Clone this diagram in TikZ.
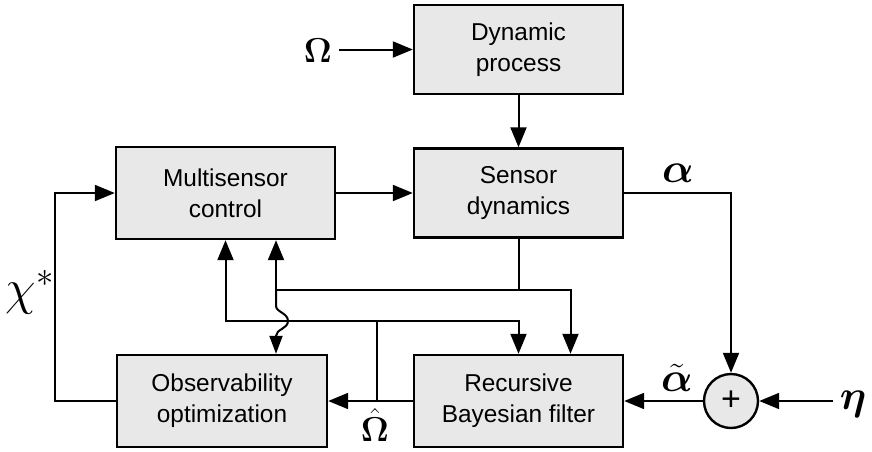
\documentclass[tikz,border=0pt]{standalone}
\usepackage{amsmath}
\usepackage{amssymb}
\usepackage{fontspec}
\setsansfont{Liberation Sans}
\usepackage{xcolor}
\usepackage{tikz}
\usetikzlibrary{arrows.meta,positioning}

\definecolor{boxgray}{HTML}{E8E8E8}

\begin{document}
\begin{tikzpicture}[
    x=0.5pt, y=-0.5pt,
    box/.style={rectangle, draw, line width=1.2pt, fill=boxgray, align=center, inner sep=0pt,
                minimum width=104.5pt, minimum height=44.5pt,
                font=\sffamily\fontsize{12.2}{15.5}\selectfont},
    sumnode/.style={circle, draw, line width=1.2pt, fill=boxgray, minimum size=27pt, inner sep=0pt,
                font=\sffamily\fontsize{17}{17}\selectfont},
    arrow/.style={-{Triangle[length=10pt,width=8pt]}, line width=1pt},
    smallarrow/.style={-{Triangle[length=9pt,width=6.5pt]}, line width=1pt},
    sym/.style={font=\fontsize{19}{19}\selectfont},
    bigsym/.style={font=\fontsize{20}{20}\selectfont}
]
    \useasboundingbox (0,0) rectangle (872,451);

    % Blocks
    \node[box] (dyn) at (518.5,49.5) {Dynamic\\process};
    \node[box] (sensor) at (518.5,193) {Sensor\\dynamics};
    \node[box, minimum width=109.5pt, minimum height=46pt] (multi) at (225.5,193) {Multisensor\\control};
    \node[box, minimum width=105pt, minimum height=46pt] (obs) at (222,401) {Observability\\optimization};
    \node[box, minimum height=46pt] (rec) at (518.5,401) {Recursive\\Bayesian filter};
    \node[sumnode] (sum) at (731,401) {+};

    % Signals
    \node[sym] (omega) at (318,51) {$\boldsymbol{\Omega}$};
    \node[bigsym] (alpha) at (678,173) {$\boldsymbol{\alpha}$};
    \node[bigsym] (alphat) at (677,378) {$\tilde{\boldsymbol{\alpha}}$};
    \node[bigsym] (eta) at (853,404) {$\boldsymbol{\eta}$};
    \node[sym] (omegah) at (375,425) {$\hat{\boldsymbol{\Omega}}$};
    \node[font=\fontsize{25}{25}\selectfont] (chi) at (30,292) {$\chi^{*}$};

    % Junctions
    \coordinate (hatjoin) at (377,401);
    \coordinate (split) at (377,321);
    \coordinate (tap) at (518.5,290);
    \coordinate (fork) at (276,290);

    % Forward path
    \draw[arrow] (omega.east |- dyn.west) -- (dyn.west);
    \draw[arrow] (dyn) -- (sensor);
    \draw[arrow] (multi) -- (sensor);
    \draw[arrow] (sensor.east) -| (sum.north);
    \draw[arrow] (eta.west |- sum.east) -- (sum.east);
    \draw[arrow] (sum) -- (rec);
    \draw[arrow] (rec) -- (obs);
    \draw[arrow] (obs.west) -- ++(-61,0) |- (multi.west);

    % Estimate feedback
    \draw[line width=1pt] (hatjoin) -- (split);
    \draw[arrow] (split) -| (multi.south);
    \draw[arrow] (split) -| (rec.north);

    % Sensor state feedback
    \draw[line width=1pt] (sensor.south) -- (tap);
    \draw[arrow] (tap) -| ([xshift=26pt]rec.north);
    \draw[arrow] (tap) -- (fork) -- (fork |- multi.south);
    \draw[smallarrow] (fork) -- (276,306)
        .. controls (276,312) and (288,313) .. (288,321)
        .. controls (288,329) and (276,329) .. (276,336)
        -- (fork |- obs.north);
\end{tikzpicture}
\end{document}
